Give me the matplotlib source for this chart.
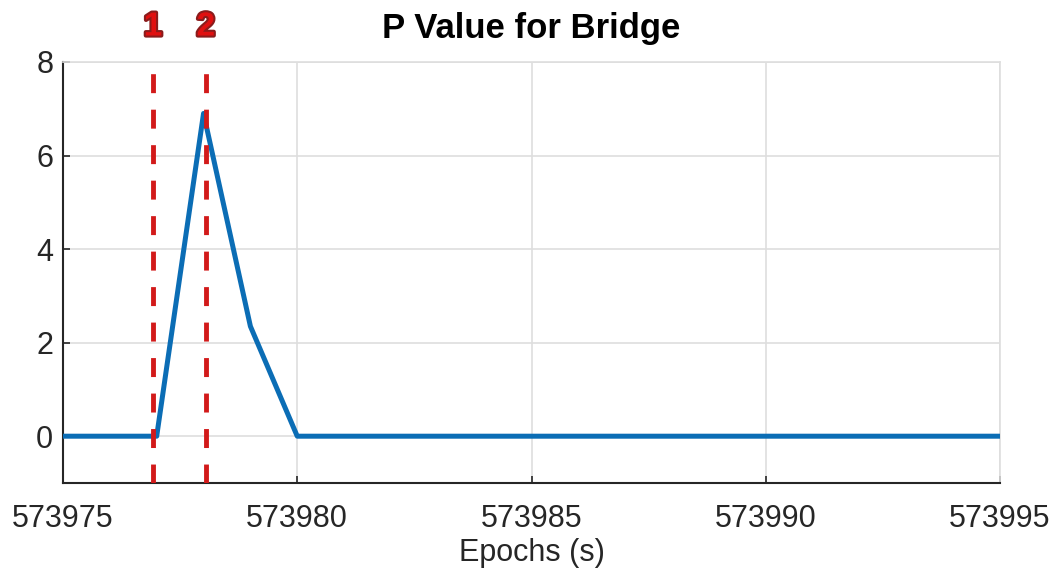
import numpy as np
import matplotlib.pyplot as plt
import matplotlib.patheffects as pe
from matplotlib.transforms import blended_transform_factory

# data
epochs = [573975, 573976, 573977, 573978, 573979, 573980, 573985, 573990, 573995]
p_value = [0, 0, 0, 6.9, 2.35, 0, 0, 0, 0]
event_x = [573976.92, 573978.05]
event_labels = ['1', '2']
xticks = [573975, 573980, 573985, 573990, 573995]
yticks = [0, 2, 4, 6, 8]

plt.rcParams['font.family'] = ['Liberation Sans', 'DejaVu Sans']

fig = plt.figure(figsize=(10.55, 5.76), dpi=100)
ax = fig.add_axes([0.0597, 0.1615, 0.8882, 0.7309])

ax.plot(epochs, p_value, color='#0b6db5', lw=3.6, zorder=3)
for x in event_x:
    ax.plot([x, x], [-1, 8], color='#d21a1a', lw=3.5, ls=(0, (3.9, 3.4)), zorder=4)

tr = blended_transform_factory(ax.transData, ax.transAxes)
for x, lab in zip(event_x, event_labels):
    ax.text(x, 1.083, lab, transform=tr, ha='center', va='center',
            fontsize=24, fontweight='bold', color='#e01010',
            path_effects=[pe.withStroke(linewidth=3, foreground='#8a1c1c')])

ax.set_xlim(573975, 573995)
ax.set_ylim(-1, 8)
ax.set_xticks(xticks)
ax.set_yticks(yticks)
ax.xaxis.set_major_formatter(plt.FuncFormatter(lambda v, p: '%d' % v))
ax.grid(True, color='#dedede', lw=1.2)
ax.set_axisbelow(True)
ax.tick_params(direction='in', length=5, width=1.2, labelsize=22,
               colors='#262626')
ax.tick_params(axis='x', pad=15)
ax.tick_params(axis='y', pad=7)
for s in ['top', 'right']:
    ax.spines[s].set_color('#dedede')
    ax.spines[s].set_linewidth(1.2)
for s in ['left', 'bottom']:
    ax.spines[s].set_color('#262626')
    ax.spines[s].set_linewidth(1.5)

ax.set_title('P Value for Bridge', fontsize=25, fontweight='bold', pad=17)
ax.set_xlabel('Epochs (s)', fontsize=22, color='#262626', labelpad=3)

fig.savefig('out.png', dpi=100)
